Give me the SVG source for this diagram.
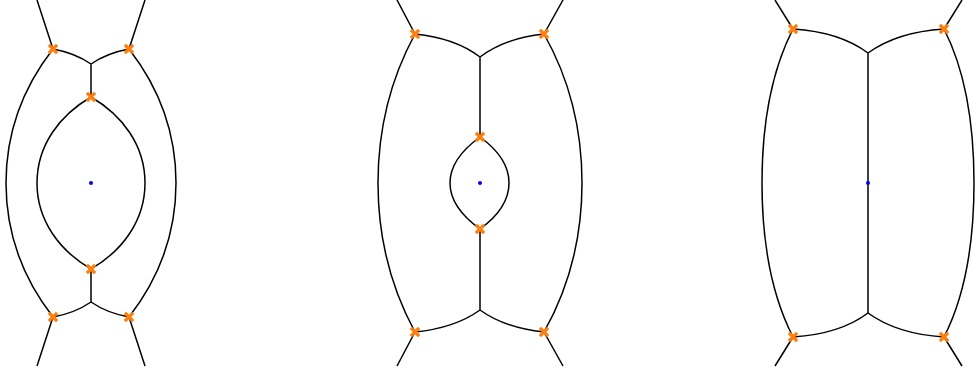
<svg xmlns="http://www.w3.org/2000/svg" xmlns:xlink="http://www.w3.org/1999/xlink" width="975" height="376" viewBox="0 0 975 376">
<style>
.e{fill:none;stroke:#000;stroke-width:1.5;stroke-linecap:butt}
.x{fill:none;stroke:#ff7f0e;stroke-width:3.2;stroke-linecap:square}
.c{fill:#0000ff}
</style>
<defs>
<path id="xm" class="x" d="M-3,-3L3,3M-3,3L3,-3"/>
</defs>
<rect width="975" height="376" fill="#fff"/>
<g id="connectors">
<!-- panel 1 -->
<path class="e" d="M53,49L37,0M129,49L145,0M53,317L37,366M129,317L145,366"/>
<path class="e" d="M53,49Q75,53 91,64M129,49Q107,53 91,64M91,64L91,97"/>
<path class="e" d="M53,317Q75,313 91,302M129,317Q107,313 91,302M91,302L91,269"/>
<path class="e" d="M53,49C25,85 6,130 6,183C6,236 25,281 53,317"/>
<path class="e" d="M129,49C157,85 176,130 176,183C176,236 157,281 129,317"/>
<path class="e" d="M91,97C60,115 37,145 37,183C37,221 60,251 91,269C122,251 145,221 145,183C145,145 122,115 91,97"/>
<!-- panel 2 -->
<path class="e" d="M415,34L397,0M544,34L563,0M415,332L397,366M544,332L563,366"/>
<path class="e" d="M415,34Q455,38 480,57M544,34Q505,38 480,57M480,57L480,137"/>
<path class="e" d="M415,332Q455,328 480,310M544,332Q505,328 480,310M480,310L480,229"/>
<path class="e" d="M415,34C390,80 378,130 378,183C378,236 390,286 415,332"/>
<path class="e" d="M544,34C570,80 582,130 582,183C582,236 570,286 544,332"/>
<path class="e" d="M480,137C462,150 450,165 450,183C450,201 462,216 480,229C498,216 509,201 509,183C509,165 498,150 480,137"/>
<!-- panel 3 -->
<path class="e" d="M793,29L775,0M944,29L962,0M793,337L775,366M944,337L962,366"/>
<path class="e" d="M793,29Q840,32 868,53M944,29Q897,32 868,53M868,53L868,313"/>
<path class="e" d="M793,337Q840,334 868,313M944,337Q897,334 868,313"/>
<path class="e" d="M793,29C772,70 762,120 762,183C762,246 772,296 793,337"/>
<path class="e" d="M944,29C965,70 974,120 974,183C974,246 965,296 944,337"/>
</g>
<g id="n1-center"><circle class="c" cx="91" cy="183" r="2"/></g>
<g id="n1-tl"><use xlink:href="#xm" x="53" y="49"/></g>
<g id="n1-tr"><use xlink:href="#xm" x="129" y="49"/></g>
<g id="n1-it"><use xlink:href="#xm" x="91" y="97"/></g>
<g id="n1-ib"><use xlink:href="#xm" x="91" y="269"/></g>
<g id="n1-bl"><use xlink:href="#xm" x="53" y="317"/></g>
<g id="n1-br"><use xlink:href="#xm" x="129" y="317"/></g>
<g id="n2-center"><circle class="c" cx="480" cy="183" r="2"/></g>
<g id="n2-tl"><use xlink:href="#xm" x="415" y="34"/></g>
<g id="n2-tr"><use xlink:href="#xm" x="544" y="34"/></g>
<g id="n2-it"><use xlink:href="#xm" x="480" y="137"/></g>
<g id="n2-ib"><use xlink:href="#xm" x="480" y="229"/></g>
<g id="n2-bl"><use xlink:href="#xm" x="415" y="332"/></g>
<g id="n2-br"><use xlink:href="#xm" x="544" y="332"/></g>
<g id="n3-center"><circle class="c" cx="868" cy="183" r="2"/></g>
<g id="n3-tl"><use xlink:href="#xm" x="793" y="29"/></g>
<g id="n3-tr"><use xlink:href="#xm" x="944" y="29"/></g>
<g id="n3-bl"><use xlink:href="#xm" x="793" y="337"/></g>
<g id="n3-br"><use xlink:href="#xm" x="944" y="337"/></g>
</svg>
